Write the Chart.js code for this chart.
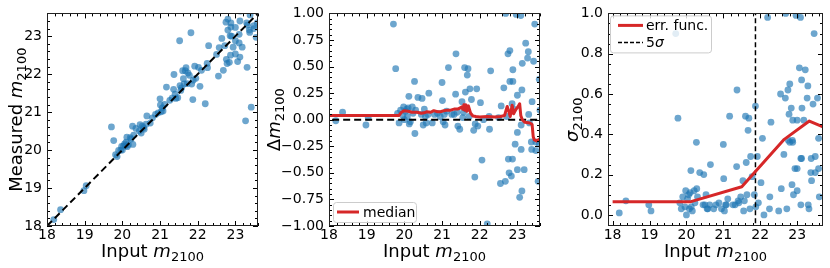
<!DOCTYPE html>
<html>
<head>
<meta charset="utf-8">
<script src="https://cdn.jsdelivr.net/npm/chart.js@4.4.1/dist/chart.umd.min.js"></script>
<style>
  body { margin: 0; background: #fff; width: 830px; height: 268px; position: relative; overflow: hidden; }
  canvas { position: absolute; top: 0; }
</style>
</head>
<body>
<canvas id="cMeasured" width="262" height="268" style="left:0px"></canvas>
<canvas id="cDelta" width="290" height="268" style="left:262px"></canvas>
<canvas id="cSigma" width="278" height="268" style="left:552px"></canvas>
<script>
// tick labels
const magTicks = [18, 19, 20, 21, 22, 23];
const deltaTicks = [-1, -0.75, -0.5, -0.25, 0, 0.25, 0.5, 0.75, 1];
const sigmaTicks = [0, 0.2, 0.4, 0.6, 0.8, 1.0];

// input magnitude of each source and measured - input offset
const inputMag = [
  18.18, 18.36, 18.98, 19.04, 19.71, 19.77, 19.82, 19.86, 19.90, 19.96,
  19.98, 20.00, 20.03, 20.06, 20.08, 20.10, 20.12, 20.13, 20.16, 20.21,
  20.23, 20.27, 20.28, 20.30, 20.36, 20.45, 20.47, 20.50, 20.53, 20.56,
  20.58, 20.63, 20.65, 20.74, 20.80, 20.88, 20.95, 21.00, 21.01, 21.03,
  21.06, 21.08, 21.12, 21.17, 21.26, 21.32, 21.36, 21.37, 21.40, 21.42,
  21.47, 21.52, 21.53, 21.55, 21.57, 21.60, 21.62, 21.64, 21.67, 21.69,
  21.72, 21.74, 21.78, 21.82, 21.84, 21.87, 21.88, 21.92, 21.95, 22.02,
  22.06, 22.10, 22.20, 22.25, 22.26, 22.29, 22.50, 22.55, 22.57, 22.64,
  22.68, 22.69, 22.72, 22.75, 22.76, 22.78, 22.80, 22.80, 22.84, 22.86,
  22.87, 22.88, 22.88, 22.90, 22.94, 22.97, 23.00, 23.00, 23.00, 23.06,
  23.09, 23.10, 23.10, 23.12, 23.12, 23.13, 23.18, 23.22, 23.27, 23.27,
  23.29, 23.30, 23.31, 23.32, 23.37, 23.38, 23.39, 23.42, 23.43, 23.46,
  23.49, 23.49, 23.55, 23.58, 23.58, 23.60
];
const deltaMag = [
  -0.01, 0.07, -0.05, 0.02, 0.90, 0.48, 0.06, -0.03, 0.09, 0.04,
  0.12, 0.00, 0.08, 0.10, 0.03, 0.11, 0.22, -0.04, -0.02, 0.12,
  0.06, 0.36, -0.13, 0.09, 0.21, 0.05, 0.20, -0.05, 0.10, 0.03,
  -0.03, 0.05, 0.25, -0.03, 0.05, 0.06, 0.03, 0.35, 0.18, -0.02,
  0.05, -0.05, 0.08, 0.49, 0.05, 0.05, 0.24, 0.62, 0.07, -0.06,
  -0.09, 1.36, 0.17, 0.02, 0.07, 0.49, 0.26, 0.10, 0.42, 0.48,
  0.03, 0.29, 0.19, 1.27, -0.10, -0.54, -0.04, 0.29, -0.06, 0.16,
  -0.38, 0.00, -0.98, 0.03, -0.09, 0.46, 0.02, -0.60, 0.13, 0.30,
  -0.58, 1.00, 0.03, 0.62, -0.37, -0.50, 0.65, 0.36, -0.53, 0.15,
  -0.37, 0.36, 0.47, 0.10, -0.23, 0.99, 0.23, -0.12, -0.47, -0.73,
  0.98, -0.28, -0.05, -0.67, 0.28, 0.53, -0.47, 0.72, 0.58, -2.50,
  0.64, 0.05, -1.13, -0.03, -0.21, -0.28, 0.17, -2.29, 0.55, 0.90,
  -0.21, -0.29, -0.58, 0.38, -0.23, 0.09
];

// running median of the offset
const medianX = [
  18.0, 19.86, 19.92, 20.0, 20.1, 20.2, 20.34, 20.45, 20.52, 20.6,
  20.7, 20.78, 20.88, 20.96, 21.05, 21.14, 21.23, 21.32, 21.41, 21.48,
  21.52, 21.55, 21.58, 21.6, 21.63, 21.66, 21.7, 21.76, 21.82, 21.9,
  22.0, 22.2, 22.4, 22.55, 22.66, 22.7, 22.73, 22.77, 22.81, 22.86,
  22.9, 22.95, 23.02, 23.06, 23.09, 23.13, 23.2, 23.33, 23.39, 23.42,
  23.45, 23.51, 23.6, 23.65
];
const medianDelta = [
  0.04, 0.04, 0.07, 0.085, 0.08, 0.07, 0.07, 0.06, 0.065, 0.075,
  0.07, 0.085, 0.075, 0.075, 0.085, 0.09, 0.09, 0.1, 0.1, 0.11,
  0.12, 0.1, 0.14, 0.09, 0.14, 0.08, 0.13, 0.06, 0.035, 0.03,
  0.025, 0.03, 0.025, 0.03, 0.04, 0.09, 0.125, 0.08, 0.03, 0.135,
  0.055, 0.09, 0.125, 0.15, 0.04, 0.0, -0.025, -0.03, -0.045, -0.16,
  -0.19, -0.2, -0.18, -0.16
];

// error function
const errFuncX = [18.0, 20.1, 21.5, 22.65, 23.33, 23.72];
const errFuncSigma = [0.065, 0.065, 0.14, 0.375, 0.466, 0.435];
const fiveSigmaMag = 21.87;

const measuredMag = inputMag.map((x, i) => x + deltaMag[i]);
const sigmaMag = deltaMag.map((d) => Math.abs(d));

const FONT = "'DejaVu Sans', sans-serif";
const BLUE = "rgba(31,119,180,0.65)";
const RED = "#d62728";

const pts = (xs, ys) => xs.map((x, i) => ({ x: x, y: ys[i] }));

const scatterSet = (ys) => ({
  data: pts(inputMag, ys),
  showLine: false,
  pointRadius: 3.4,
  pointHoverRadius: 3.4,
  pointBackgroundColor: BLUE,
  pointBorderWidth: 0,
  clip: 0,
  order: 5,
});

const lineSet = (data, color, width, dash, order) => ({
  data: data,
  showLine: true,
  borderColor: color,
  borderWidth: width,
  borderDash: dash,
  pointRadius: 0,
  tension: 0,
  borderJoinStyle: "round",
  borderCapStyle: "butt",
  clip: 0,
  order: order,
});

const axis = (min, max, ticks, fmt, size, isX) => ({
  type: "linear",
  min: min,
  max: max,
  afterBuildTicks: (s) => {
    s.ticks = ticks.map((v) => ({ value: v }));
  },
  afterFit: (s) => {
    if (isX) s.height = size;
    else s.width = size;
  },
  ticks: {
    color: "#000",
    font: { family: FONT, size: 14 },
    padding: isX ? 1 : 5,
    maxRotation: 0,
    autoSkip: false,
    callback: fmt,
  },
  grid: { display: false, drawTicks: false },
  border: { display: false },
});

const fmtInt = (v) => String(v);
const fmtSigned = (d) => (v) => (v < 0 ? "\u2212" : "") + Math.abs(v).toFixed(d);

// draws a label made of pieces (normal, italic, subscript)
function drawRich(ctx, parts, x, y, rot, align) {
  let w = 0;
  parts.forEach((p) => {
    ctx.font = p.font;
    p.w = ctx.measureText(p.t).width;
    w += p.w;
  });
  ctx.save();
  ctx.translate(x, y);
  ctx.rotate(rot);
  ctx.fillStyle = "#000";
  ctx.textBaseline = "alphabetic";
  ctx.textAlign = "left";
  let cx = align === "left" ? 0 : -w / 2;
  parts.forEach((p) => {
    ctx.font = p.font;
    ctx.fillText(p.t, cx, p.dy || 0);
    cx += p.w;
  });
  ctx.restore();
}

const N = (t) => ({ t: t, font: "18px " + FONT });
const I = (t) => ({ t: t, font: "italic 18px " + FONT });
const S = (t) => ({ t: t, font: "13px " + FONT, dy: 4 });
const LN = (t) => ({ t: t, font: "14px " + FONT });
const LI = (t) => ({ t: t, font: "italic 14px " + FONT });

function minorValues(scale, major, step) {
  const out = [];
  const n0 = Math.ceil(scale.min / step - 1e-6);
  const n1 = Math.floor(scale.max / step + 1e-6);
  for (let n = n0; n <= n1; n++) {
    const v = n * step;
    if (!major.some((m) => Math.abs(m - v) < 1e-6)) out.push(v);
  }
  return out;
}

const decor = {
  id: "decor",
  afterDraw(chart, args, o) {
    const ctx = chart.ctx;
    const a = chart.chartArea;
    const xs = chart.scales.x;
    const ys = chart.scales.y;
    ctx.save();
    ctx.strokeStyle = "#000";
    ctx.lineWidth = 1;
    ctx.beginPath();
    const xTick = (v, len) => {
      const p = Math.round(xs.getPixelForValue(v)) + 0.5;
      ctx.moveTo(p, a.bottom); ctx.lineTo(p, a.bottom - len);
      ctx.moveTo(p, a.top); ctx.lineTo(p, a.top + len);
    };
    const yTick = (v, len) => {
      const p = Math.round(ys.getPixelForValue(v)) + 0.5;
      ctx.moveTo(a.left, p); ctx.lineTo(a.left + len, p);
      ctx.moveTo(a.right, p); ctx.lineTo(a.right - len, p);
    };
    o.xMajor.forEach((v) => xTick(v, 5));
    minorValues(xs, o.xMajor, o.xMinor).forEach((v) => xTick(v, 3));
    o.yMajor.forEach((v) => yTick(v, 5));
    minorValues(ys, o.yMajor, o.yMinor).forEach((v) => yTick(v, 3));
    ctx.stroke();
    ctx.strokeStyle = "#222";
    ctx.strokeRect(Math.round(a.left) + 0.5, Math.round(a.top) + 0.5,
      Math.round(a.width) - 1, Math.round(a.height) - 1);

    // legend
    if (o.legend) {
      const L = o.legend;
      const bx = a.left + L.dx;
      const by = L.fromBottom ? a.bottom - L.dy - L.h : a.top + L.dy;
      ctx.beginPath();
      ctx.roundRect(bx + 0.5, by + 0.5, L.w, L.h, 3);
      ctx.fillStyle = "rgba(255,255,255,0.8)";
      ctx.fill();
      ctx.strokeStyle = "#cccccc";
      ctx.stroke();
      L.items.forEach((it, k) => {
        const cy = by + L.first + k * L.step;
        ctx.beginPath();
        ctx.strokeStyle = it.color;
        ctx.lineWidth = it.width;
        ctx.setLineDash(it.dash || []);
        ctx.moveTo(bx + L.x0, cy);
        ctx.lineTo(bx + L.x1, cy);
        ctx.stroke();
        ctx.setLineDash([]);
        drawRich(ctx, it.parts, bx + L.tx, cy + 5, 0, "left");
      });
    }

    // axis titles
    drawRich(ctx, o.xTitle, (a.left + a.right) / 2, 256.5, 0);
    drawRich(ctx, o.yTitle, o.yTitleX, (a.top + a.bottom) / 2, -Math.PI / 2);
    ctx.restore();
  },
};

function makeChart(id, datasets, xScale, yScale, rightPad, decorOpts) {
  return new Chart(document.getElementById(id), {
    type: "scatter",
    data: { datasets: datasets },
    options: {
      responsive: false,
      animation: false,
      events: [],
      layout: { padding: { top: 12, right: rightPad, left: 0, bottom: 0 } },
      scales: { x: xScale, y: yScale },
      plugins: {
        legend: { display: false },
        tooltip: { enabled: false },
        decor: decorOpts,
      },
    },
    plugins: [decor],
  });
}

// panel 1: measured vs input
makeChart(
  "cMeasured",
  [
    lineSet([{ x: 18, y: 18 }, { x: 23.6, y: 23.6 }], "#000", 2, [7, 4], 0),
    scatterSet(measuredMag),
  ],
  axis(18, 23.6, magTicks, fmtInt, 42, true),
  axis(18, 23.6, magTicks, fmtInt, 47, false),
  4,
  {
    xMajor: magTicks, xMinor: 0.2, yMajor: magTicks, yMinor: 0.2,
    xTitle: [N("Input "), I("m"), S("2100")],
    yTitle: [N("Measured "), I("m"), S("2100")],
    yTitleX: 22,
  }
);

// panel 2: offset vs input
makeChart(
  "cDelta",
  [
    lineSet(pts(medianX, medianDelta), RED, 3, [], 0),
    lineSet([{ x: 17.5, y: 0 }, { x: 24, y: 0 }], "#000", 2, [7, 4], 1),
    scatterSet(deltaMag),
  ],
  axis(18, 23.6, magTicks, fmtInt, 42, true),
  axis(-1, 1, deltaTicks, fmtSigned(2), 67, false),
  12,
  {
    xMajor: magTicks, xMinor: 0.2, yMajor: deltaTicks, yMinor: 0.05,
    xTitle: [N("Input "), I("m"), S("2100")],
    yTitle: [N("\u0394"), I("m"), S("2100")],
    yTitleX: 18,
    legend: {
      dx: 4, dy: 4, fromBottom: true, w: 83, h: 20,
      first: 10, step: 17, x0: 4, x1: 26, tx: 30,
      items: [{ parts: [LN("median")], color: RED, width: 3 }],
    },
  }
);

// panel 3: error vs input
makeChart(
  "cSigma",
  [
    lineSet(pts(errFuncX, errFuncSigma), RED, 3, [], 0),
    lineSet([{ x: fiveSigmaMag, y: -0.2 }, { x: fiveSigmaMag, y: 1.2 }], "#000", 1.5, [5, 3], 1),
    scatterSet(sigmaMag),
  ],
  axis(17.875, 23.7, magTicks, fmtInt, 42, true),
  axis(-0.055, 1.0, sigmaTicks, fmtSigned(1), 56, false),
  7,
  {
    xMajor: magTicks, xMinor: 0.2, yMajor: sigmaTicks, yMinor: 0.05,
    xTitle: [N("Input "), I("m"), S("2100")],
    yTitle: [I("\u03c3"), S("2100")],
    yTitleX: 26,
    legend: {
      dx: 2, dy: 2, fromBottom: false, w: 101, h: 37,
      first: 10, step: 17, x0: 8, x1: 33, tx: 36,
      items: [
        { parts: [LN("err. func.")], color: RED, width: 3 },
        { parts: [LN("5"), LI("\u03c3")], color: "#000", width: 1.5, dash: [4, 2] },
      ],
    },
  }
);
</script>
</body>
</html>
